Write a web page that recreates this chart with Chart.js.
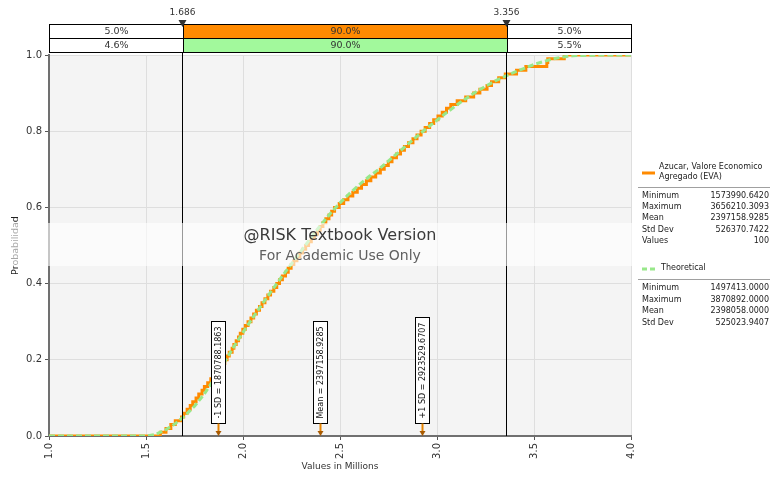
<!DOCTYPE html>
<html>
<head>
<meta charset="utf-8">
<script src="https://cdn.jsdelivr.net/npm/chart.js@4/dist/chart.umd.min.js"></script>
<style>
  html, body { margin: 0; padding: 0; background: #ffffff; }
  #graf { display: block; }
</style>
</head>
<body>
<canvas id="graf" width="770" height="477"></canvas>
<script>
// Hodnoty simulace (v milionech), seřazené - 100 hodnot
const sampleValues = [
  1.574, 1.603, 1.628, 1.651, 1.683, 1.694, 1.712, 1.728, 1.741, 1.758,
  1.772, 1.789, 1.801, 1.818, 1.834, 1.851, 1.862, 1.878, 1.893, 1.906,
  1.918, 1.929, 1.944, 1.953, 1.965, 1.977, 1.986, 1.999, 2.012, 2.026,
  2.041, 2.055, 2.069, 2.085, 2.098, 2.113, 2.128, 2.142, 2.159, 2.174,
  2.188, 2.203, 2.219, 2.233, 2.248, 2.262, 2.278, 2.293, 2.307, 2.323,
  2.338, 2.352, 2.368, 2.384, 2.398, 2.412, 2.427, 2.443, 2.457, 2.472,
  2.496, 2.519, 2.541, 2.566, 2.589, 2.611, 2.636, 2.659, 2.684, 2.708,
  2.728, 2.749, 2.768, 2.791, 2.812, 2.832, 2.853, 2.876, 2.897, 2.918,
  2.939, 2.962, 2.983, 3.005, 3.027, 3.049, 3.071, 3.104, 3.148, 3.189,
  3.221, 3.258, 3.281, 3.318, 3.352, 3.410, 3.458, 3.566, 3.571, 3.656
];

// Teoretická distribuční funkce (x v milionech, p)
const theoX = [1.00, 1.45, 1.50, 1.55, 1.60, 1.65, 1.70, 1.75, 1.80, 1.85, 1.90, 1.95,
  2.00, 2.05, 2.10, 2.15, 2.20, 2.25, 2.30, 2.35, 2.40, 2.45, 2.50, 2.55, 2.60, 2.65,
  2.70, 2.75, 2.80, 2.85, 2.90, 2.95, 3.00, 3.05, 3.10, 3.15, 3.20, 3.25, 3.30, 3.35,
  3.40, 3.45, 3.50, 3.55, 3.60, 3.65, 3.70, 3.75, 3.87, 4.00];
const theoP = [0, 0, 0.000, 0.004, 0.016, 0.032, 0.053, 0.078, 0.110, 0.148, 0.190, 0.232,
  0.272, 0.310, 0.347, 0.383, 0.418, 0.452, 0.486, 0.520, 0.553, 0.584, 0.612, 0.637, 0.660, 0.681,
  0.700, 0.722, 0.744, 0.766, 0.788, 0.809, 0.829, 0.849, 0.868, 0.886, 0.903, 0.918, 0.932, 0.944,
  0.955, 0.965, 0.975, 0.983, 0.990, 0.995, 0.998, 0.999, 1.000, 1.000];

// Oddělovače a procenta v horním pruhu
const delimiters = [1.686, 3.356];
const delimiterLabels = ["1.686", "3.356"];
const barRow1 = ["5.0%", "90.0%", "5.0%"];
const barRow2 = ["4.6%", "90.0%", "5.5%"];

// Značky -1 SD, průměr, +1 SD
const markerValues = [1.8707881863, 2.3971589285, 2.9235296707];
const markerLabels = ["-1 SD = 1870788.1863", "Mean = 2397158.9285", "+1 SD = 2923529.6707"];

// Legenda se statistikami
const statNames1 = ["Minimum", "Maximum", "Mean", "Std Dev", "Values"];
const statValues1 = ["1573990.6420", "3656210.3093", "2397158.9285", "526370.7422", "100"];
const statNames2 = ["Minimum", "Maximum", "Mean", "Std Dev"];
const statValues2 = ["1497413.0000", "3870892.0000", "2398058.0000", "525023.9407"];

const ORANGE = "#ff8a00";
const GREEN_BAR = "#a2f99c";
const GREEN_LINE = "#98e88a";
const FONT = "'DejaVu Sans', sans-serif";

// Body empirické distribuční funkce
const empirical = [{ x: 1.0, y: 0 }];
sampleValues.forEach(function(v, i) {
  empirical.push({ x: v, y: (i + 1) / sampleValues.length });
});
empirical.push({ x: 4.0, y: 1 });

const theoretical = theoX.map(function(x, i) { return { x: x, y: theoP[i] }; });

const doplnky = {
  id: "doplnky",
  beforeDraw(chart) {
    const a = chart.chartArea;
    const ctx = chart.ctx;
    ctx.save();
    ctx.fillStyle = "#f4f4f4";
    ctx.fillRect(a.left, a.top, a.right - a.left, a.bottom - a.top);
    ctx.restore();
  },
  afterDatasetsDraw(chart) {
    const a = chart.chartArea;
    const ctx = chart.ctx;
    const sx = chart.scales.x;
    ctx.save();

    // Svislé čáry oddělovačů
    const dx = delimiters.map(function(d) { return Math.round(sx.getPixelForValue(d)) + 0.5; });
    ctx.strokeStyle = "#000";
    ctx.lineWidth = 1;
    dx.forEach(function(x) {
      ctx.beginPath();
      ctx.moveTo(x, 20);
      ctx.lineTo(x, a.bottom);
      ctx.stroke();
    });

    // Horní pruh s procenty
    const edges = [a.left, dx[0], dx[1], a.right];
    const rows = [
      { y: 24, texts: barRow1, fills: ["#fff", ORANGE, "#fff"] },
      { y: 38, texts: barRow2, fills: ["#fff", GREEN_BAR, "#fff"] }
    ];
    ctx.font = "9.5px " + FONT;
    ctx.textAlign = "center";
    ctx.textBaseline = "middle";
    rows.forEach(function(r) {
      for (let i = 0; i < 3; i++) {
        const x0 = Math.round(edges[i]) + 0.5;
        const x1 = Math.round(edges[i + 1]) + 0.5;
        ctx.fillStyle = r.fills[i];
        ctx.fillRect(x0, r.y + 0.5, x1 - x0, 14);
        ctx.strokeStyle = "#000";
        ctx.strokeRect(x0, r.y + 0.5, x1 - x0, 14);
        ctx.fillStyle = "#333";
        ctx.fillText(r.texts[i], (x0 + x1) / 2, r.y + 8);
      }
    });

    // Trojúhelníky a popisky oddělovačů
    ctx.font = "9px " + FONT;
    dx.forEach(function(x, i) {
      ctx.fillStyle = "#333";
      ctx.beginPath();
      ctx.moveTo(x - 4, 20);
      ctx.lineTo(x + 4, 20);
      ctx.lineTo(x, 27);
      ctx.closePath();
      ctx.fill();
      ctx.fillText(delimiterLabels[i], x, 13);
    });

    // Značky SD a průměru
    ctx.font = "8px " + FONT;
    markerValues.forEach(function(v, i) {
      const x = Math.round(sx.getPixelForValue(v)) + 0.5;
      const w = ctx.measureText(markerLabels[i]).width;
      const h = Math.round(w + 10);
      const bottom = 423.5;
      ctx.fillStyle = "#fff";
      ctx.fillRect(x - 7, bottom - h, 14, h);
      ctx.strokeStyle = "#000";
      ctx.lineWidth = 1;
      ctx.strokeRect(x - 7, bottom - h, 14, h);
      ctx.save();
      ctx.translate(x + 0.5, bottom - h / 2);
      ctx.rotate(-Math.PI / 2);
      ctx.fillStyle = "#111";
      ctx.textAlign = "center";
      ctx.textBaseline = "middle";
      ctx.fillText(markerLabels[i], 0, 0);
      ctx.restore();
      ctx.strokeStyle = "#e88400";
      ctx.lineWidth = 2;
      ctx.beginPath();
      ctx.moveTo(x, bottom);
      ctx.lineTo(x, a.bottom - 4);
      ctx.stroke();
      ctx.fillStyle = "#a85a00";
      ctx.beginPath();
      ctx.moveTo(x - 3, a.bottom - 5);
      ctx.lineTo(x + 3, a.bottom - 5);
      ctx.lineTo(x, a.bottom);
      ctx.closePath();
      ctx.fill();
    });

    // Vodoznak
    ctx.fillStyle = "rgba(255,255,255,0.6)";
    ctx.fillRect(0, 223, chart.width, 43);
    ctx.textAlign = "center";
    ctx.textBaseline = "middle";
    ctx.fillStyle = "#3a3a3a";
    ctx.font = "16px " + FONT;
    ctx.fillText("@RISK Textbook Version", (a.left + a.right) / 2, 236);
    ctx.fillStyle = "#606060";
    ctx.font = "14px " + FONT;
    ctx.fillText("For Academic Use Only", (a.left + a.right) / 2, 256);

    // Legenda vpravo
    const lx = 642, rx = 769;
    ctx.textBaseline = "middle";
    ctx.strokeStyle = ORANGE;
    ctx.lineWidth = 3;
    ctx.setLineDash([]);
    ctx.beginPath();
    ctx.moveTo(lx, 173);
    ctx.lineTo(lx + 13, 173);
    ctx.stroke();
    ctx.font = "8px " + FONT;
    ctx.fillStyle = "#222";
    ctx.textAlign = "left";
    ctx.fillText("Azucar, Valore Economico", 659, 167);
    ctx.fillText("Agregado (EVA)", 659, 177);
    ctx.strokeStyle = "#a0a0a0";
    ctx.lineWidth = 1;
    ctx.beginPath();
    ctx.moveTo(638, 187.5);
    ctx.lineTo(770, 187.5);
    ctx.stroke();
    statNames1.forEach(function(n, i) {
      const y = 196 + i * 11.2;
      ctx.textAlign = "left";
      ctx.fillText(n, lx, y);
      ctx.textAlign = "right";
      ctx.fillText(statValues1[i], rx, y);
    });

    ctx.strokeStyle = GREEN_LINE;
    ctx.lineWidth = 3;
    ctx.setLineDash([5, 3]);
    ctx.beginPath();
    ctx.moveTo(lx, 269);
    ctx.lineTo(lx + 14, 269);
    ctx.stroke();
    ctx.setLineDash([]);
    ctx.textAlign = "left";
    ctx.fillText("Theoretical", 661, 268);
    ctx.strokeStyle = "#a0a0a0";
    ctx.lineWidth = 1;
    ctx.beginPath();
    ctx.moveTo(638, 279.5);
    ctx.lineTo(770, 279.5);
    ctx.stroke();
    statNames2.forEach(function(n, i) {
      const y = 288 + i * 11.5;
      ctx.textAlign = "left";
      ctx.fillText(n, lx, y);
      ctx.textAlign = "right";
      ctx.fillText(statValues2[i], rx, y);
    });

    ctx.restore();
  }
};

new Chart(document.getElementById("graf").getContext("2d"), {
  type: "scatter",
  data: {
    datasets: [
      {
        label: "Azucar, Valore Economico Agregado (EVA)",
        data: empirical,
        showLine: true,
        stepped: "before",
        borderColor: ORANGE,
        borderWidth: 3,
        pointRadius: 0,
        order: 1
      },
      {
        label: "Theoretical",
        data: theoretical,
        showLine: true,
        borderColor: GREEN_LINE,
        borderWidth: 3,
        borderDash: [6, 3],
        pointRadius: 0,
        tension: 0,
        order: 0
      }
    ]
  },
  options: {
    responsive: false,
    animation: false,
    layout: { padding: { top: 55, right: 139, left: 0, bottom: 0 } },
    plugins: { legend: { display: false }, tooltip: { enabled: false } },
    scales: {
      x: {
        type: "linear",
        min: 1.0,
        max: 4.0,
        afterFit: function(s) { s.height = 41; },
        ticks: {
          stepSize: 0.5,
          minRotation: 90,
          maxRotation: 90,
          padding: 3,
          color: "#333",
          font: { family: "DejaVu Sans", size: 10 },
          callback: function(v) { return Number(v).toFixed(1); }
        },
        grid: { color: "#dedede", tickColor: "#555", tickLength: 4 },
        border: { color: "#707070", width: 2 },
        title: {
          display: true,
          text: "Values in Millions",
          color: "#333",
          font: { family: "DejaVu Sans", size: 9 },
          padding: { top: 0, bottom: 5 }
        }
      },
      y: {
        min: 0,
        max: 1,
        afterFit: function(s) { s.width = 49; },
        ticks: {
          stepSize: 0.2,
          padding: 3,
          color: "#333",
          font: { family: "DejaVu Sans", size: 10 },
          callback: function(v) { return Number(v).toFixed(1); }
        },
        grid: { color: "#dedede", tickColor: "#555", tickLength: 4 },
        border: { color: "#707070", width: 2 },
        title: {
          display: true,
          text: "Probabilidad",
          color: "#222",
          font: { family: "DejaVu Sans", size: 9.5 },
          padding: { top: 10, bottom: 0 }
        }
      }
    }
  },
  plugins: [doplnky]
});
</script>
</body>
</html>
